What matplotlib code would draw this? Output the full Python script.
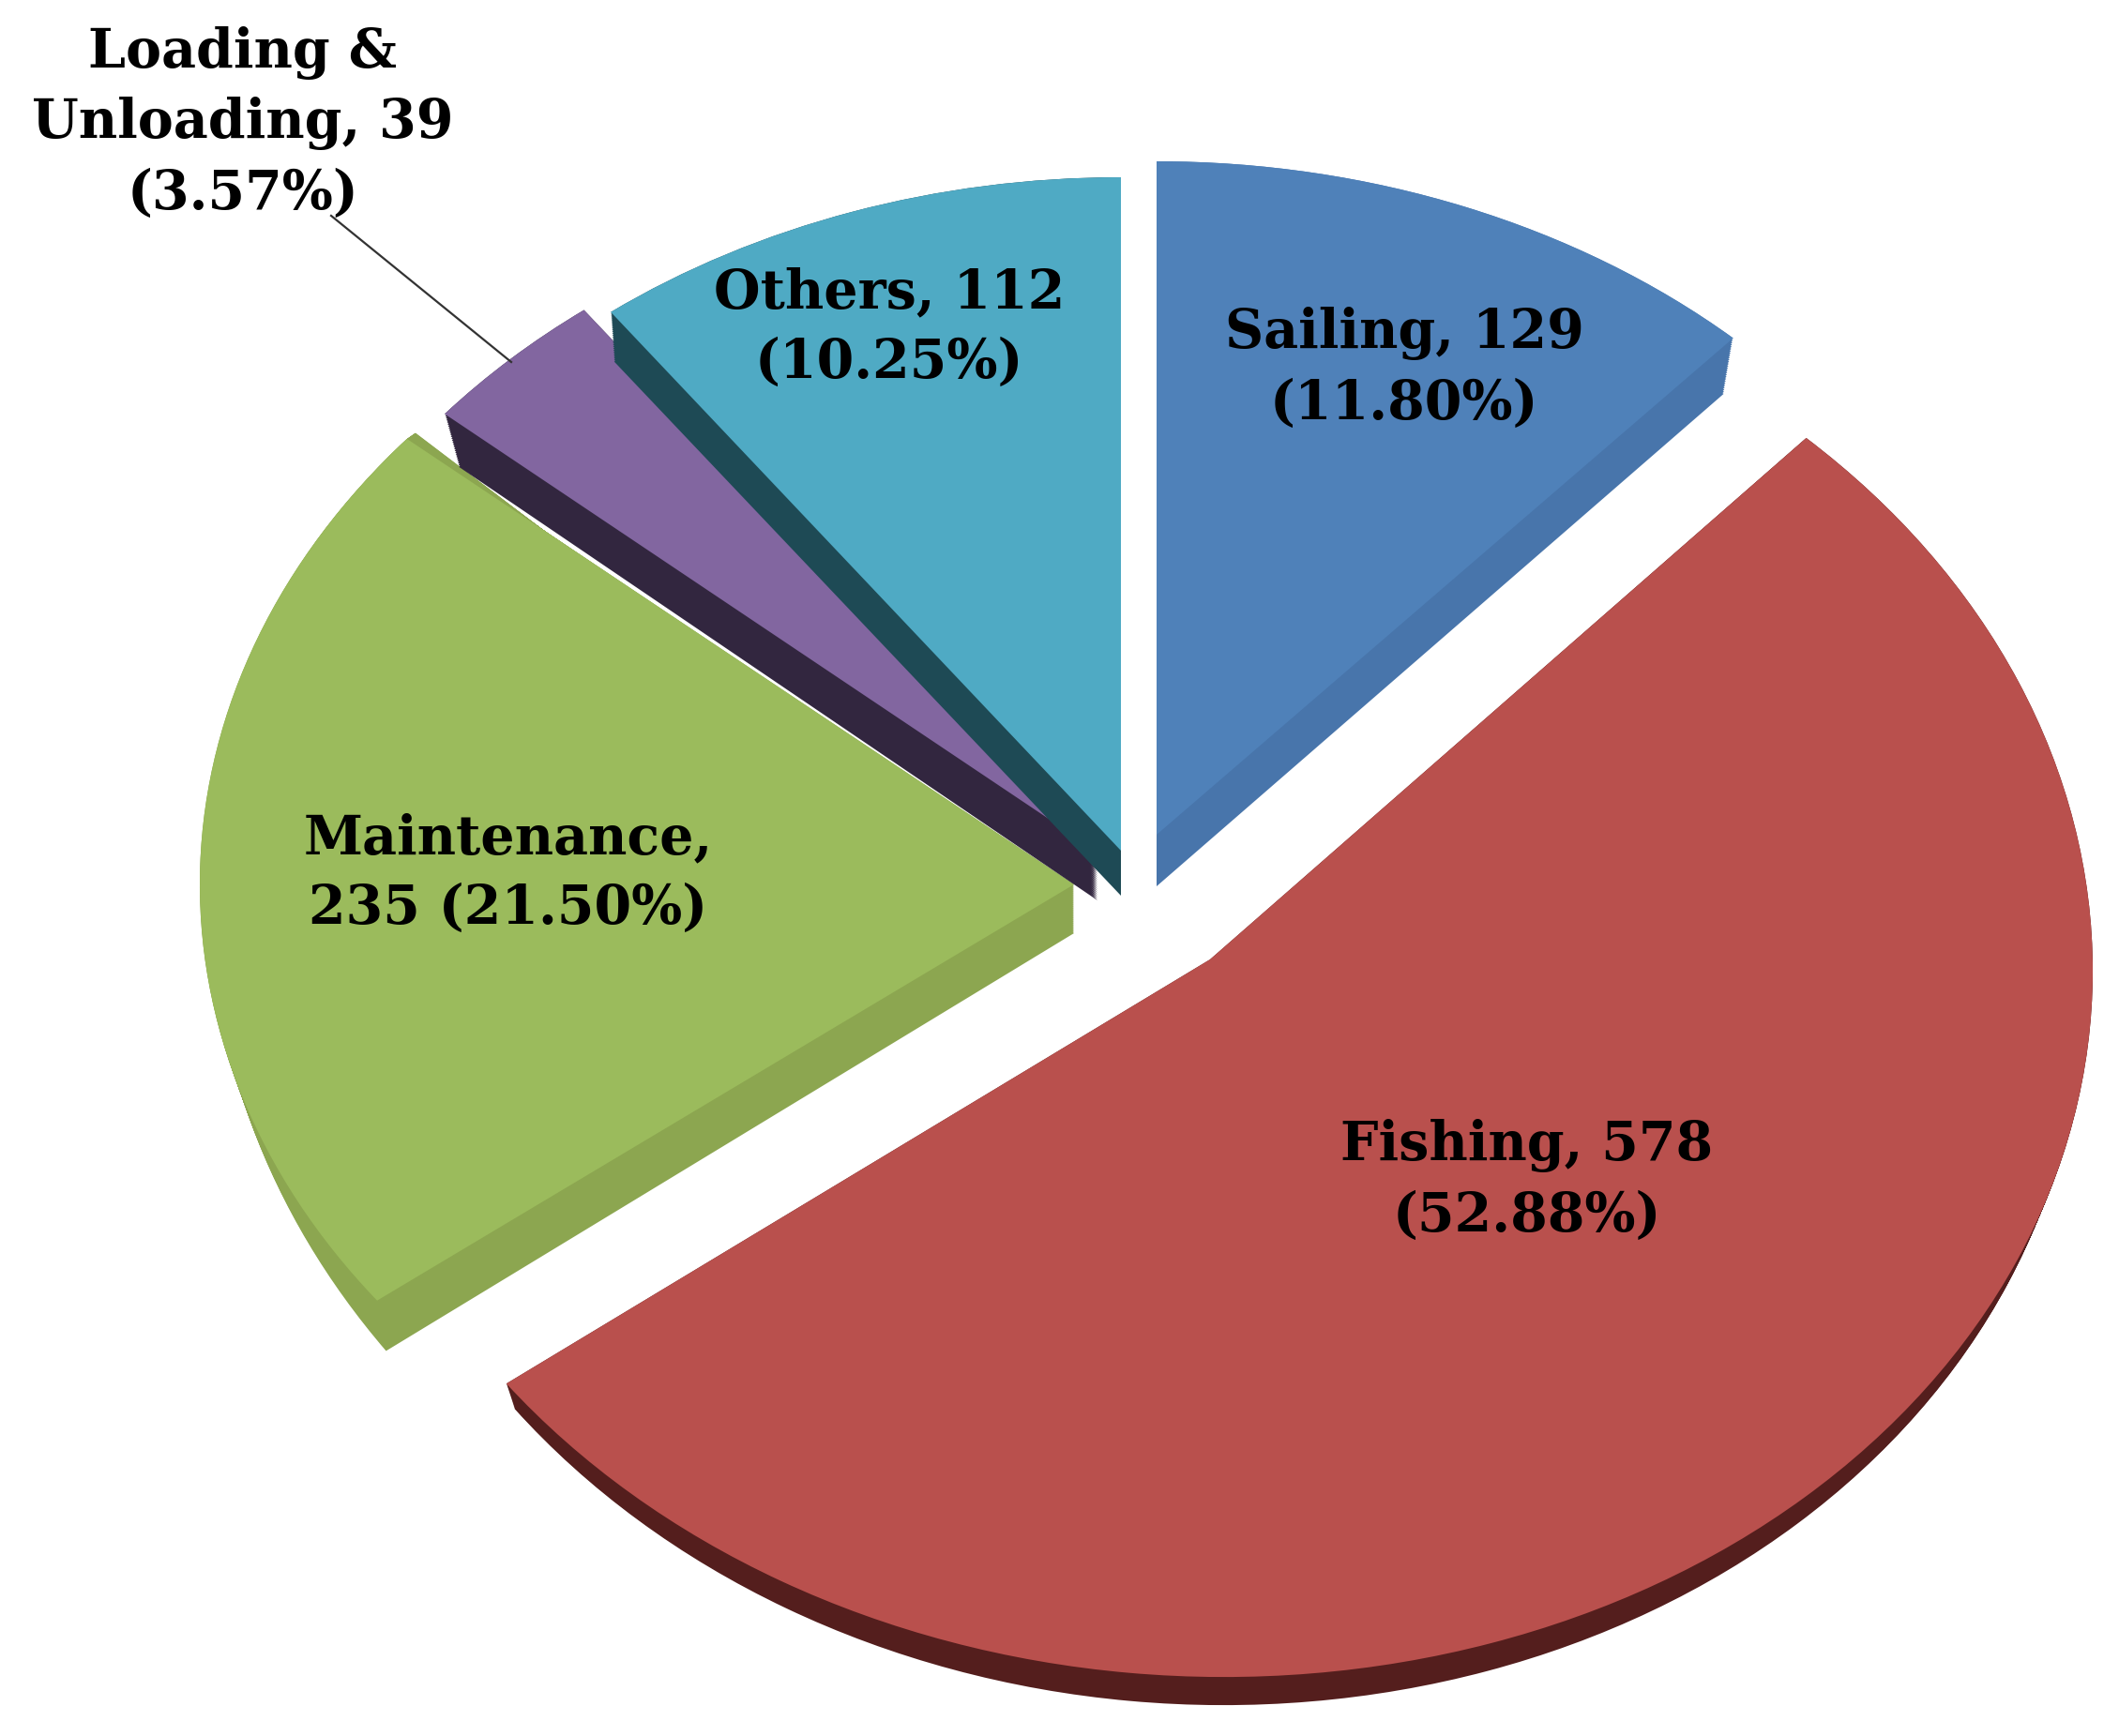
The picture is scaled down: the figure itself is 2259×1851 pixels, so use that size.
import matplotlib
matplotlib.use('Agg')
import matplotlib.pyplot as plt
from matplotlib.transforms import Affine2D

plt.rcParams['font.family'] = ['DejaVu Serif']

# data
activities = ['Sailing', 'Fishing', 'Maintenance', 'Loading &\nUnloading', 'Others']
values = [129, 578, 235, 39, 112]
percents = ['11.80%', '52.88%', '21.50%', '3.57%', '10.25%']

top_colors = ['#4F81B9', '#B9504D', '#9BBB5C', '#8266A0', '#4FAAC4']
side_colors = ['#4875AB', '#541E1D', '#8CA650', '#32263F', '#1E4A55']

W, H = 2259, 1851

# every slice is tilted on its own: apex x, apex y, radius x, radius y, shear (pixels)
top_geom = [(1233, 890, 910, 718, 0),
            (1290, 1023, 941, 765, 12),
            (1145, 943, 932, 735, 0),
            (1170, 908, 912, 722, 0),
            (1195, 907, 906, 718, 0)]
bottom_geom = [(1233, 945, 895, 712, 0),
               (1290, 1045, 930, 773, 12),
               (1145, 995, 920, 784, 35),
               (1170, 960, 892, 715, 0),
               (1195, 955, 900, 712, 0)]
DEPTH_STEPS = 26

label_pos = [(1497, 393), (1628, 1259), (542, 932), (259, 131), (948, 350)]


def slice_transform(g):
    cx, cy, rx, ry, shear = g
    # pie draws on the unit circle, y of the axes runs downwards here
    return Affine2D.from_values(rx, shear, 0, -ry, cx, cy)


def blend(g0, g1, t):
    return tuple(a + (b - a) * t for a, b in zip(g0, g1))


fig = plt.figure(figsize=(W / 100, H / 100), dpi=100, facecolor='white')
ax = fig.add_axes([0, 0, 1, 1])

# side of the slices: the same pie repeated between bottom and top face
for step in range(DEPTH_STEPS + 1):
    t = step / DEPTH_STEPS
    wedges, _ = ax.pie(values, colors=side_colors, startangle=90, counterclock=False,
                       wedgeprops={'linewidth': 0})
    for i, w in enumerate(wedges):
        w.set_transform(slice_transform(blend(bottom_geom[i], top_geom[i], t)) + ax.transData)
        w.set_zorder(2 + 2 * i)

top_wedges, _ = ax.pie(values, colors=top_colors, startangle=90, counterclock=False,
                       wedgeprops={'linewidth': 0})
for i, w in enumerate(top_wedges):
    w.set_transform(slice_transform(top_geom[i]) + ax.transData)
    w.set_zorder(3 + 2 * i)

ax.set_aspect('auto')
ax.set_xlim(0, W)
ax.set_ylim(H, 0)
ax.axis('off')

# leader line of the small slice
ax.plot([353, 545], [230, 386], color='#333333', lw=1.6, zorder=20)

labels = [
    f'{activities[0]}, {values[0]}\n({percents[0]})',
    f'{activities[1]}, {values[1]}\n({percents[1]})',
    f'{activities[2]},\n{values[2]} ({percents[2]})',
    f'{activities[3]}, {values[3]}\n({percents[3]})',
    f'{activities[4]}, {values[4]}\n({percents[4]})',
]
for i, txt in enumerate(labels):
    ax.text(label_pos[i][0], label_pos[i][1], txt, ha='center', va='center', fontsize=41,
            fontweight='bold', color='black', linespacing=1.42, zorder=30)

fig.savefig('out.png', dpi=100)
